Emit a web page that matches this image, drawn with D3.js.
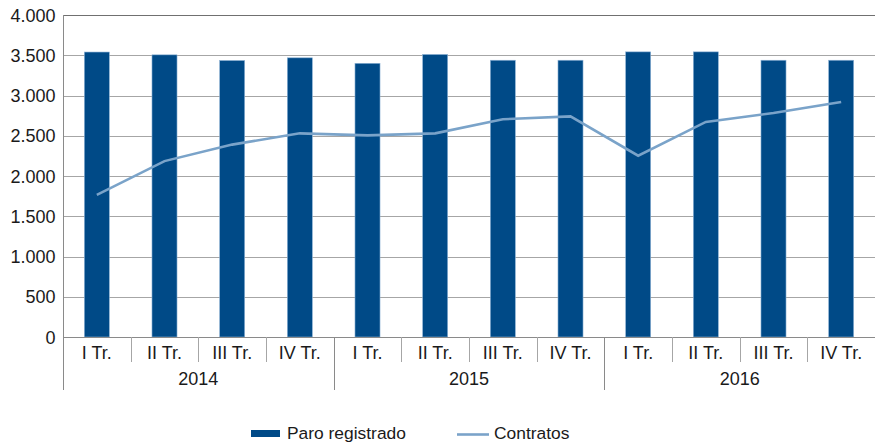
<!DOCTYPE html>
<html><head><meta charset="utf-8">
<script src="https://cdn.jsdelivr.net/npm/d3@7"></script>
<style>body{margin:0;background:#fff}svg{display:block}text{font-family:"Liberation Sans",Arial,Helvetica,sans-serif;fill:#1a1a1a}</style>
</head><body>
<svg id="c" width="875" height="446"></svg>
<script>
const years = ["2014", "2015", "2016"];
const quarters = ["I Tr.", "II Tr.", "III Tr.", "IV Tr."];
const paro = [3540, 3505, 3435, 3468, 3400, 3510, 3438, 3438, 3542, 3542, 3438, 3438];
const contratos = [1765, 2185, 2390, 2530, 2505, 2530, 2705, 2740, 2252, 2672, 2782, 2920];
const yTicks = [0, 500, 1000, 1500, 2000, 2500, 3000, 3500, 4000];
const seriesNames = ["Paro registrado", "Contratos"];

const cats = [];
years.forEach(y => quarters.forEach(q => cats.push(y + "|" + q)));

const svg = d3.select("#c");
const L = 63, R = 875, T = 15, B = 337;
const x = d3.scaleBand().domain(cats).range([L, R]).paddingInner(0.63).paddingOuter(0.315);
const xb = d3.scaleBand().domain(cats).range([L, R]);
const y = d3.scaleLinear().domain([0, 4000]).range([B, T]);
const fmt = v => d3.format(",")(v).replace(/,/g, ".");

// gridlines
svg.append("g").selectAll("line").data(yTicks).join("line")
  .attr("x1", L).attr("x2", R).attr("y1", d => Math.round(y(d)) + 0.5).attr("y2", d => Math.round(y(d)) + 0.5)
  .attr("stroke", d => d === 4000 ? "#707070" : "#a6a6a6").attr("stroke-width", 1);

// y labels
svg.append("g").selectAll("text").data(yTicks).join("text")
  .attr("x", 55.5).attr("y", d => y(d) + 6.5).attr("text-anchor", "end")
  .attr("font-size", 18).text(fmt);

// bars
svg.append("g").selectAll("rect").data(paro).join("rect")
  .attr("x", (d, i) => x(cats[i])).attr("width", x.bandwidth())
  .attr("y", d => y(d)).attr("height", d => y(0) - y(d))
  .attr("fill", "#004a87").attr("stroke", "#8fb4d6").attr("stroke-width", 0.6);

// line
const line = d3.line().x((d, i) => xb(cats[i]) + xb.bandwidth() / 2).y(d => y(d));
svg.append("path").datum(contratos).attr("d", line)
  .attr("fill", "none").attr("stroke", "#7aa3c9").attr("stroke-width", 2.6);

// axes
svg.append("line").attr("x1", L).attr("x2", R).attr("y1", B + 0.5).attr("y2", B + 0.5).attr("stroke", "#8a8a8a");
svg.append("line").attr("x1", L + 0.5).attr("x2", L + 0.5).attr("y1", T).attr("y2", 390).attr("stroke", "#8a8a8a");

// category separators
const gx = svg.append("g");
cats.forEach((c, i) => {
  if (i > 0) {
    const xx = Math.round(xb(c)) + 0.5;
    const grp = i % 4 === 0;
    gx.append("line").attr("x1", xx).attr("x2", xx).attr("y1", B).attr("y2", grp ? 390 : 362)
      .attr("stroke", grp ? "#8a8a8a" : "#a6a6a6");
  }
  gx.append("text").attr("x", xb(c) + xb.bandwidth() / 2).attr("y", 359)
    .attr("text-anchor", "middle").attr("font-size", 18).text(quarters[i % 4]);
});
years.forEach((yr, j) => {
  const x0 = xb(cats[j * 4]), x1 = xb(cats[j * 4 + 3]) + xb.bandwidth();
  gx.append("text").attr("x", (x0 + x1) / 2).attr("y", 385).attr("text-anchor", "middle")
    .attr("font-size", 18).text(yr);
});

// legend
const lg = svg.append("g");
lg.append("rect").attr("x", 251).attr("y", 430).attr("width", 29).attr("height", 7).attr("fill", "#004a87");
lg.append("text").attr("x", 287).attr("y", 439).attr("font-size", 17.4).attr("fill", "#333").text(seriesNames[0]);
lg.append("line").attr("x1", 457).attr("x2", 489).attr("y1", 434.5).attr("y2", 434.5).attr("stroke", "#7aa3c9").attr("stroke-width", 2.6);
lg.append("text").attr("x", 494).attr("y", 439).attr("font-size", 17.4).attr("fill", "#333").text(seriesNames[1]);
</script>
</body></html>
